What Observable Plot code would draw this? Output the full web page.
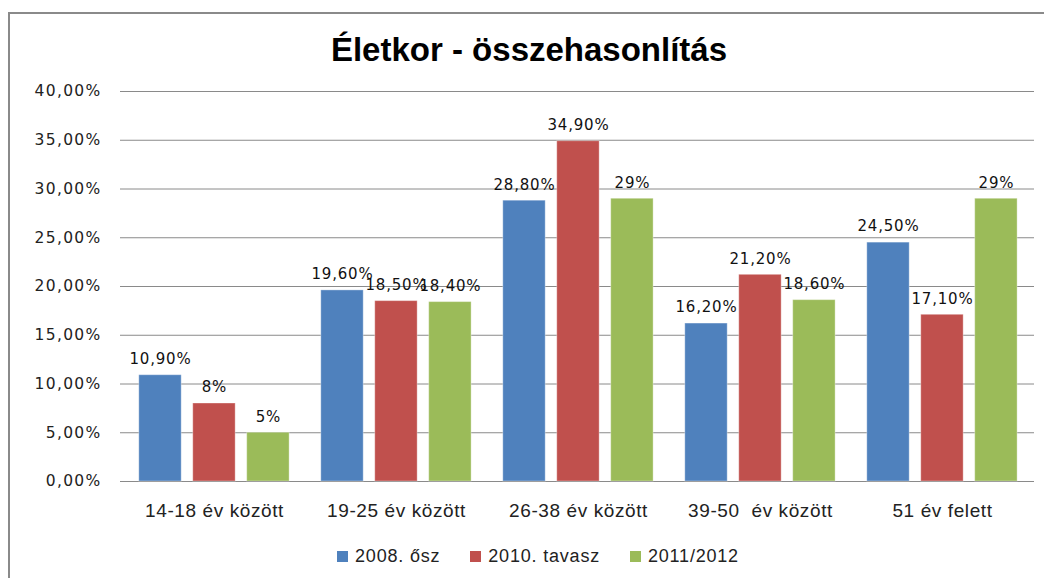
<!DOCTYPE html>
<html>
<head>
<meta charset="utf-8">
<script src="https://cdn.jsdelivr.net/npm/d3@7"></script>
<script src="https://cdn.jsdelivr.net/npm/@observablehq/plot@0.6"></script>
<style>
  html, body { margin: 0; padding: 0; background: #fff; }
  #page { position: relative; width: 1044px; height: 578px; overflow: hidden; background: #fff; }
  #frame { position: absolute; left: 8px; top: 12px; width: 1200px; height: 800px; border-left: 2px solid #8a8a8a; border-top: 2px solid #8a8a8a; box-sizing: border-box; }
  #title { position: absolute; left: 0; top: 33px; width: 1058px; text-align: center; font: bold 33px "Liberation Sans", Arial, sans-serif; line-height: 33px; color: #000; }
  #chart { position: absolute; left: 0; top: 75px; }
  #chart svg text { white-space: pre; }
  #chart g[aria-label^="x-axis"] text { font-family: "Liberation Sans", Arial, sans-serif; font-size: 19px; letter-spacing: 0.6px; fill: #222; }
  #chart g[aria-label^="y-axis"] text { font-family: "DejaVu Sans", Verdana, sans-serif; font-size: 15.5px; letter-spacing: 1.3px; fill: #222; }
  #chart g[aria-label="text"] text { letter-spacing: 0.8px; }
  #legend { position: absolute; left: 0; top: 546px; width: 1044px; box-sizing: border-box; padding-left: 32px; display: flex; justify-content: center; gap: 30px; font: 18px "Liberation Sans", Arial, sans-serif; letter-spacing: 0.8px; color: #222; }
  .item { display: flex; align-items: center; gap: 7px; }
  .sw { width: 11px; height: 11px; display: inline-block; }
</style>
</head>
<body>
<div id="page">
  <div id="frame"></div>
  <div id="title">Életkor - összehasonlítás</div>
  <div id="chart"></div>
  <div id="legend"></div>
</div>
<script>
const categories = ["14-18 év között", "19-25 év között", "26-38 év között", "39-50  év között", "51 év felett"];
const seriesNames = ["2008. ősz", "2010. tavasz", "2011/2012"];
const values2008 = [10.9, 19.6, 28.8, 16.2, 24.5];
const values2010 = [8, 18.5, 34.9, 21.2, 17.1];
const values2011 = [5, 18.4, 29, 18.6, 29];
const colors = ["#4F81BD", "#C0504D", "#9BBB59"];
const yTicks = [0, 5, 10, 15, 20, 25, 30, 35, 40];

const seriesValues = [values2008, values2010, values2011];
const rows = [];
seriesNames.forEach((s, si) => categories.forEach((c, ci) => rows.push({series: s, si, category: c, value: seriesValues[si][ci]})));

const fmtLabel = v => Number.isInteger(v) ? `${v}%` : v.toFixed(2).replace(".", ",") + "%";
const fmtTick = v => v.toFixed(2).replace(".", ",") + "%";

const width = 1044, height = 455;
const marginLeft = 121, marginRight = 10, marginTop = 16, marginBottom = 49;
const bw = (width - marginLeft - marginRight) / categories.length;
const outer = 0.0865, barFrac = 0.2355, gapFrac = 0.06;

const marks = [
  Plot.ruleY(yTicks, {stroke: "#8a8a8a", strokeWidth: 1, insetLeft: -1})
];
seriesNames.forEach((s, i) => {
  const left = bw * (outer + i * (barFrac + gapFrac));
  const right = bw - left - bw * barFrac;
  const data = rows.filter(d => d.si === i);
  marks.push(Plot.barY(data, {x: "category", y: "value", fill: colors[i], insetLeft: left, insetRight: right, stroke: "#ffffff", strokeOpacity: 0.35, strokeWidth: 1}));
  marks.push(Plot.text(data, {x: "category", y: "value", text: d => fmtLabel(d.value), dx: left + bw * barFrac / 2 - bw / 2, dy: -16, fontSize: 15, fontFamily: "DejaVu Sans, Verdana, sans-serif", fill: "#111"}));
});

const chart = Plot.plot({
  width, height, marginLeft, marginRight, marginTop, marginBottom,
  x: {type: "band", domain: categories, padding: 0, label: null, tickSize: 0, tickPadding: 22},
  y: {domain: [0, 40], ticks: yTicks, tickFormat: fmtTick, label: null, tickSize: 0, tickPadding: 20},
  marks
});
document.getElementById("chart").appendChild(chart);

const legend = document.getElementById("legend");
seriesNames.forEach((s, i) => {
  const item = document.createElement("div");
  item.className = "item";
  const sw = document.createElement("span");
  sw.className = "sw";
  sw.style.background = colors[i];
  const t = document.createElement("span");
  t.textContent = s;
  item.appendChild(sw); item.appendChild(t);
  legend.appendChild(item);
});
</script>
</body>
</html>
